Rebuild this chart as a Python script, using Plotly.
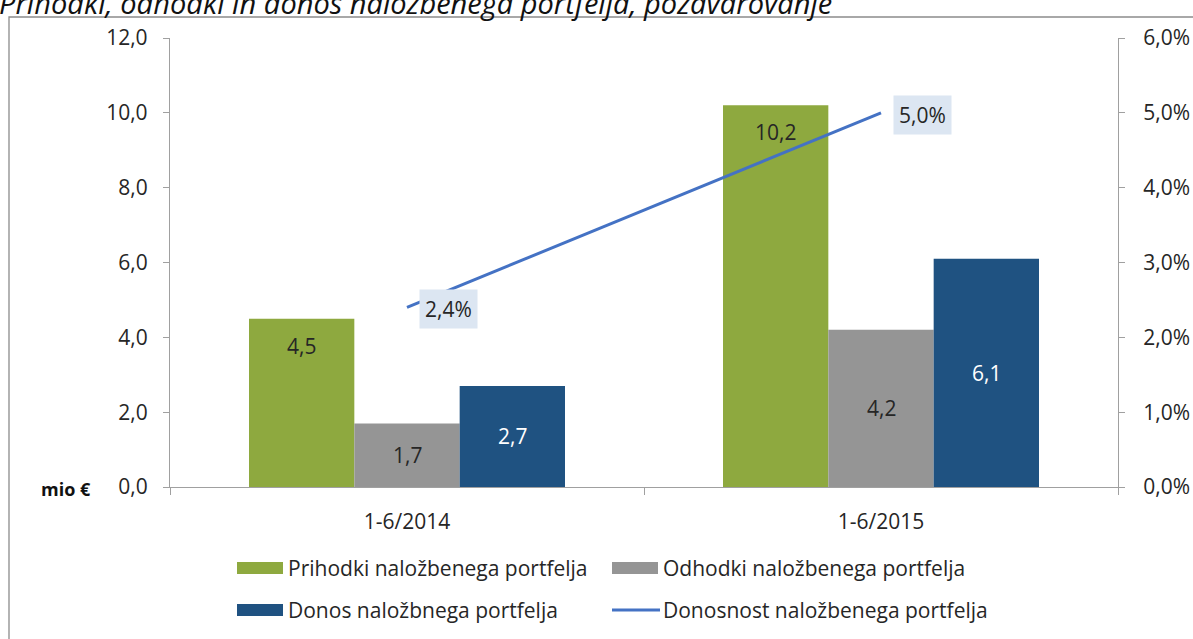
import plotly.graph_objects as go

categories = ["1-6/2014", "1-6/2015"]
prihodki = [4.5, 10.2]
odhodki = [1.7, 4.2]
donos = [2.7, 6.1]
donosnost = [0.024, 0.050]

series_names = [
    "Prihodki naložbenega portfelja",
    "Odhodki naložbenega portfelja",
    "Donos naložbnega portfelja",
    "Donosnost naložbenega portfelja",
]
title_text = "Prihodki, odhodki in donos naložbenega portfelja, pozavarovanje"
y_unit = "mio €"

GREEN = "#8EA93F"
GRAY = "#959595"
BLUE = "#1F5281"
LINE = "#4472C4"
LABEL_BG = "#DCE6F2"
AXIS = "#A0A0A0"
TXT = "#262626"
FONT = "Open Sans"
FS = 21

W, H = 1193, 639
L, R, T, B = 170, 75, 38, 152
PW, PH = W - L - R, H - T - B


def px(x):
    return (x - L) / PW


def py(y):
    return (H - B - y) / PH


def fmt(v):
    return f"{v:.1f}".replace(".", ",")


def fmtp(v):
    return f"{v*100:.1f}%".replace(".", ",")


BARGAP = 1 / 3
bar_w = PW / len(categories) * (1 - BARGAP) / 3

fig = go.Figure()
for vals, name, col in [(prihodki, series_names[0], GREEN),
                        (odhodki, series_names[1], GRAY),
                        (donos, series_names[2], BLUE)]:
    fig.add_trace(go.Bar(x=categories, y=vals, name=name, marker_color=col,
                         marker_line_width=0, showlegend=False))

fig.add_trace(go.Scatter(x=categories, y=donosnost, name=series_names[3],
                         mode="lines", line=dict(color=LINE, width=3),
                         yaxis="y2", showlegend=False))

annotations = []
# bar value labels
for i, c in enumerate(categories):
    annotations.append(dict(x=c, y=prihodki[i], xref="x", yref="y", text=fmt(prihodki[i]),
                            showarrow=False, xshift=-bar_w, yshift=-27,
                            font=dict(family=FONT, size=FS, color=TXT)))
    annotations.append(dict(x=c, y=odhodki[i] / 2, xref="x", yref="y", text=fmt(odhodki[i]),
                            showarrow=False, xshift=0,
                            font=dict(family=FONT, size=FS, color=TXT)))
    annotations.append(dict(x=c, y=donos[i] / 2, xref="x", yref="y", text=fmt(donos[i]),
                            showarrow=False, xshift=bar_w,
                            font=dict(family=FONT, size=FS, color="white")))
    annotations.append(dict(x=c, y=donosnost[i], xref="x", yref="y2", text=fmtp(donosnost[i]),
                            showarrow=False, xanchor="left", xshift=12, yshift=-2,
                            bgcolor=LABEL_BG, borderpad=5,
                            font=dict(family=FONT, size=FS, color=TXT)))

# unit label
annotations.append(dict(x=px(93), y=py(489), xref="paper", yref="paper", text=f"<b>{y_unit}</b>",
                        showarrow=False, xanchor="right", yanchor="middle",
                        font=dict(family=FONT, size=18, color="#111111")))

# title (cut off at top, as in source)
annotations.append(dict(x=px(-3), y=py(24), xref="paper", yref="paper", text=f"<i>{title_text}</i>",
                        showarrow=False, xanchor="left", yanchor="bottom",
                        font=dict(family=FONT, size=29, color="#111111")))

shapes = []
# outer border
shapes.append(dict(type="rect", xref="paper", yref="paper",
                   x0=px(9), x1=px(W + 20), y0=py(H + 20), y1=py(17),
                   line=dict(color="#8C8C8C", width=1.3), fillcolor="rgba(0,0,0,0)", layer="below"))

# custom legend
legend_items = [
    (series_names[0], GREEN, "rect", 237, 568),
    (series_names[1], GRAY, "rect", 612, 568),
    (series_names[2], BLUE, "rect", 237, 610),
    (series_names[3], LINE, "line", 612, 610),
]
for name, col, kind, x0, yc in legend_items:
    if kind == "rect":
        shapes.append(dict(type="rect", xref="paper", yref="paper",
                           x0=px(x0), x1=px(x0 + 46), y0=py(yc + 6), y1=py(yc - 6),
                           line=dict(width=0), fillcolor=col))
    else:
        shapes.append(dict(type="line", xref="paper", yref="paper",
                           x0=px(x0), x1=px(x0 + 48), y0=py(yc), y1=py(yc),
                           line=dict(width=3, color=col)))
    annotations.append(dict(x=px(x0 + 49), y=py(yc), xref="paper", yref="paper", text=name,
                            showarrow=False, xanchor="left", yanchor="middle",
                            font=dict(family=FONT, size=FS, color=TXT)))

fig.update_layout(
    width=W, height=H,
    margin=dict(l=L, r=R, t=T, b=B, pad=0, autoexpand=False),
    paper_bgcolor="white", plot_bgcolor="white",
    barmode="group", bargap=BARGAP, bargroupgap=0,
    separators=",.",
    font=dict(family=FONT, size=FS, color=TXT),
    showlegend=False,
    xaxis=dict(type="category", showline=True, linecolor=AXIS, linewidth=1.3,
               ticks="outside", tickson="boundaries", ticklen=7, tickcolor=AXIS,
               showgrid=False, tickfont=dict(family=FONT, size=FS, color=TXT),
               ticklabelstandoff=16, automargin=False),
    yaxis=dict(range=[0, 12], dtick=2, tickformat=".1f", showline=True, linecolor=AXIS,
               linewidth=1.3, ticks="outside", ticklen=6, tickcolor=AXIS, showgrid=False,
               zeroline=False, tickfont=dict(family=FONT, size=FS, color=TXT),
               ticklabelstandoff=11, automargin=False),
    yaxis2=dict(range=[0, 0.06], dtick=0.01, tickformat=".1%", overlaying="y", side="right",
                showline=True, linecolor=AXIS, linewidth=1.3, ticks="outside", ticklen=6,
                tickcolor=AXIS, showgrid=False, zeroline=False,
                tickfont=dict(family=FONT, size=FS, color=TXT), ticklabelstandoff=14,
                automargin=False),
    annotations=annotations,
    shapes=shapes,
)

fig.write_html(
    "out.html",
    config={"displayModeBar": False},
    post_script="document.body.style.margin='0';document.body.style.overflow='hidden';",
)
